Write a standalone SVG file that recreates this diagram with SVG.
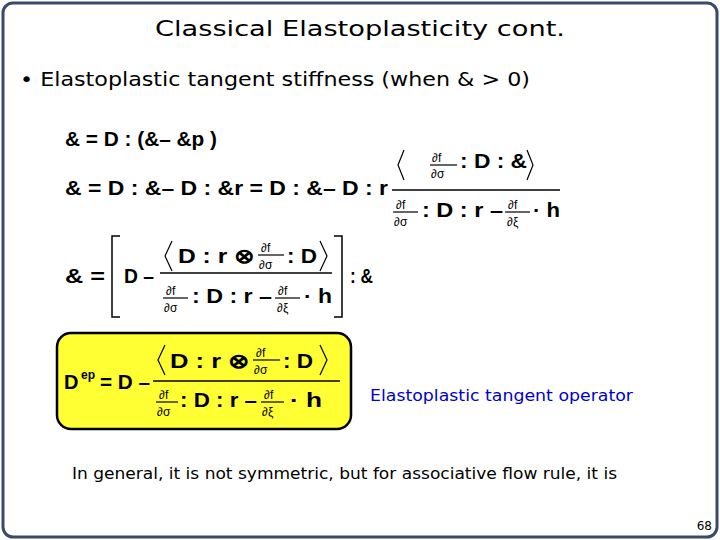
<svg xmlns="http://www.w3.org/2000/svg" width="720" height="540" viewBox="0 0 720 540">
<style>
.t{font-family:"DejaVu Sans","Liberation Sans",sans-serif;fill:#000}
.e{font-family:"Liberation Sans",sans-serif;font-weight:bold;font-size:20px;fill:#000}
.s{font-family:"Liberation Sans",sans-serif;font-size:12px;fill:#000}
.l{stroke:#000;stroke-width:1.5;fill:none}
.a{stroke:#000;stroke-width:1.2;fill:none}
</style>
<rect x="3" y="3" width="714" height="534" rx="10" fill="#fff" stroke="#3a4a6a" stroke-width="3"/>
<text class="t" x="155" y="36" font-size="22" textLength="410" lengthAdjust="spacingAndGlyphs">Classical Elastoplasticity cont.</text>
<text class="t" x="20" y="86" font-size="19" textLength="510" lengthAdjust="spacingAndGlyphs">• Elastoplastic tangent stiffness (when &amp; &gt; 0)</text>
<g id="eq1"><text class="e" x="65" y="146" font-size="22" textLength="152" lengthAdjust="spacingAndGlyphs">&amp; = D : (&amp;– &amp;p )</text></g>
<g id="eq2">
<text class="e" x="65" y="195" font-size="22" textLength="323" lengthAdjust="spacingAndGlyphs">&amp; = D : &amp;– D : &amp;r = D : &amp;– D : r</text>
<line class="l" x1="392" y1="190" x2="560" y2="190"/>
<path class="a" d="M404,150 L398,165 L404,180 M527,150 L533,165 L527,180"/>
<text class="s" x="432" y="162">∂f</text><line class="a" x1="430" y1="165" x2="457" y2="165" stroke-width="0.8"/><text class="s" x="431" y="178">∂σ</text>
<text class="e" x="460" y="168" textLength="67" lengthAdjust="spacingAndGlyphs">: D : &amp;</text>
<text class="s" x="396" y="209">∂f</text><line class="a" x1="393" y1="212" x2="418" y2="212" stroke-width="0.8"/><text class="s" x="394" y="226">∂σ</text>
<text class="e" x="422" y="217" textLength="81" lengthAdjust="spacingAndGlyphs">: D : r –</text>
<text class="s" x="508" y="209">∂f</text><line class="a" x1="505" y1="212" x2="530" y2="212" stroke-width="0.8"/><text class="s" x="507" y="226">∂ξ</text>
<text class="e" x="533" y="217" textLength="27" lengthAdjust="spacingAndGlyphs">· h</text>
</g>
<g id="eq3">
<text class="e" x="65" y="283" font-size="22" textLength="40" lengthAdjust="spacingAndGlyphs">&amp; =</text>
<path class="l" d="M120,236 H112 V317 H120 M334,236 H342 V317 H334"/>
<text class="e" x="124" y="283" font-size="22" textLength="30" lengthAdjust="spacingAndGlyphs">D –</text>
<line class="l" x1="160" y1="273" x2="332" y2="273"/>
<path class="a" d="M172,241 L165,256 L172,271 M320,241 L327,256 L320,271"/>
<text class="e" x="178" y="263" textLength="77" lengthAdjust="spacingAndGlyphs">D : r ⊗</text>
<text class="s" x="261" y="252">∂f</text><line class="a" x1="258" y1="255" x2="284" y2="255" stroke-width="0.8"/><text class="s" x="259" y="269">∂σ</text>
<text class="e" x="287" y="263" textLength="30" lengthAdjust="spacingAndGlyphs">: D</text>
<text class="s" x="166" y="295">∂f</text><line class="a" x1="163" y1="298" x2="188" y2="298" stroke-width="0.8"/><text class="s" x="164" y="312">∂σ</text>
<text class="e" x="192" y="303" textLength="80" lengthAdjust="spacingAndGlyphs">: D : r –</text>
<text class="s" x="278" y="295">∂f</text><line class="a" x1="275" y1="298" x2="300" y2="298" stroke-width="0.8"/><text class="s" x="277" y="312">∂ξ</text>
<text class="e" x="304" y="303" textLength="28" lengthAdjust="spacingAndGlyphs">· h</text>
<text class="e" x="350" y="283" font-size="22" textLength="23" lengthAdjust="spacingAndGlyphs">: &amp;</text>
</g>
<g id="dep">
<rect x="57" y="333" width="294" height="96" rx="14" fill="#ffff33" stroke="#000" stroke-width="2.5"/>
<text class="e" x="64" y="389" font-size="22">D</text><text class="s" x="81" y="379" font-size="13" font-weight="bold">ep</text>
<text class="e" x="100" y="389" textLength="50" lengthAdjust="spacingAndGlyphs">= D –</text>
<line class="l" x1="153" y1="381" x2="340" y2="381"/>
<path class="a" d="M165,345 L158,360 L165,375 M320,345 L327,360 L320,375"/>
<text class="e" x="170" y="368" textLength="80" lengthAdjust="spacingAndGlyphs">D : r ⊗</text>
<text class="s" x="256" y="357">∂f</text><line class="a" x1="253" y1="360" x2="280" y2="360" stroke-width="0.8"/><text class="s" x="254" y="374">∂σ</text>
<text class="e" x="283" y="368" textLength="30" lengthAdjust="spacingAndGlyphs">: D</text>
<text class="s" x="159" y="399">∂f</text><line class="a" x1="156" y1="402" x2="178" y2="402" stroke-width="0.8"/><text class="s" x="157" y="416">∂σ</text>
<text class="e" x="180" y="407" textLength="77" lengthAdjust="spacingAndGlyphs">: D : r –</text>
<text class="s" x="264" y="399">∂f</text><line class="a" x1="261" y1="402" x2="284" y2="402" stroke-width="0.8"/><text class="s" x="262" y="416">∂ξ</text>
<text class="e" x="290" y="407" font-size="22" textLength="32" lengthAdjust="spacingAndGlyphs">· h</text>
</g>
<text class="t" x="370" y="401" font-size="15" style="fill:#0000cc" textLength="263" lengthAdjust="spacingAndGlyphs">Elastoplastic tangent operator</text>
<text class="t" x="72" y="479" font-size="16" textLength="545" lengthAdjust="spacingAndGlyphs">In general, it is not symmetric, but for associative flow rule, it is</text>
<text class="t" x="712" y="530" font-size="12" text-anchor="end">68</text>
</svg>
